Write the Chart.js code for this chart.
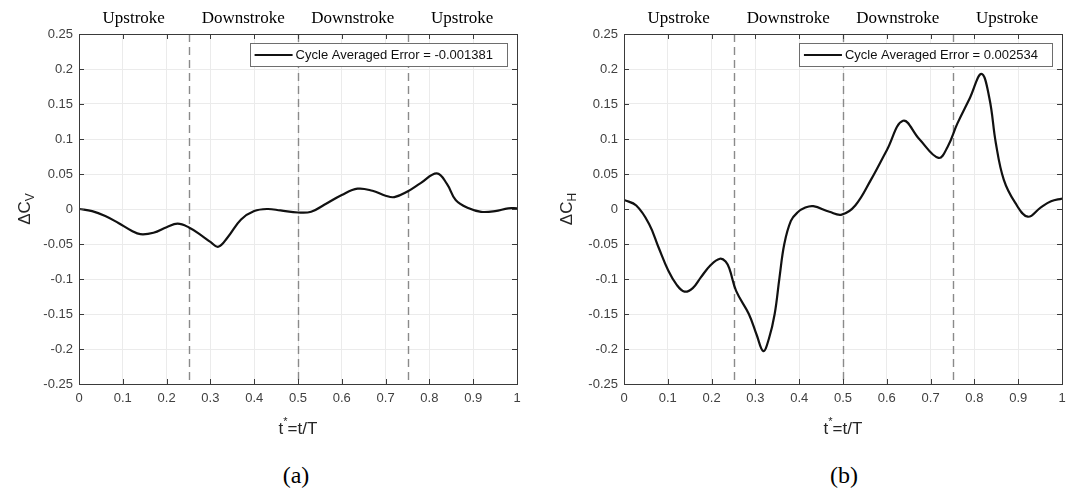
<!DOCTYPE html>
<html>
<head>
<meta charset="utf-8">
<script src="https://cdn.jsdelivr.net/npm/chart.js@4"></script>
<style>
  html, body { margin: 0; padding: 0; background: #fff; }
  body { width: 1081px; height: 496px; position: relative; overflow: hidden; }
  .wrap { position: absolute; top: 0; height: 450px; }
  .caption { position: absolute; top: 462px; font: 24px "Liberation Serif", "Times New Roman", serif; color: #000; transform: translateX(-50%); }
</style>
</head>
<body>
<div class="wrap" style="left:0;width:540px"><canvas id="chartV" width="540" height="450"></canvas></div>
<div class="wrap" style="left:540px;width:541px"><canvas id="chartH" width="541" height="450"></canvas></div>
<div class="caption" style="left:296px">(a)</div>
<div class="caption" style="left:844px">(b)</div>
<script>
// values
const phaseLabels = ['Upstroke', 'Downstroke', 'Downstroke', 'Upstroke'];
const phaseLines = [0.25, 0.5, 0.75];
const xTicks = [0, 0.1, 0.2, 0.3, 0.4, 0.5, 0.6, 0.7, 0.8, 0.9, 1];
const yTicks = [-0.25, -0.2, -0.15, -0.1, -0.05, 0, 0.05, 0.1, 0.15, 0.2, 0.25];

const tV = [0, 0.03, 0.06, 0.09, 0.12, 0.14, 0.17, 0.2, 0.225, 0.25, 0.28, 0.3, 0.318, 0.34, 0.37, 0.4, 0.43, 0.46, 0.5, 0.53, 0.56, 0.6, 0.636, 0.67, 0.7, 0.72, 0.75, 0.78, 0.817, 0.84, 0.86, 0.89, 0.918, 0.95, 0.98, 1];
const dCv = [0, -0.003, -0.01, -0.02, -0.031, -0.036, -0.034, -0.026, -0.021, -0.026, -0.038, -0.047, -0.054, -0.04, -0.015, -0.003, 0, -0.002, -0.005, -0.004, 0.006, 0.02, 0.029, 0.026, 0.019, 0.017, 0.025, 0.037, 0.051, 0.036, 0.013, 0.001, -0.004, -0.003, 0.001, 0.001];

const tH = [0, 0.028, 0.057, 0.079, 0.101, 0.12, 0.138, 0.157, 0.175, 0.198, 0.219, 0.232, 0.241, 0.256, 0.285, 0.303, 0.318, 0.331, 0.344, 0.355, 0.366, 0.381, 0.396, 0.414, 0.432, 0.469, 0.497, 0.528, 0.564, 0.6, 0.637, 0.674, 0.718, 0.739, 0.761, 0.79, 0.816, 0.834, 0.849, 0.867, 0.893, 0.922, 0.951, 0.975, 1];
const dCh = [0.013, 0.005, -0.021, -0.055, -0.088, -0.108, -0.118, -0.113, -0.098, -0.08, -0.071, -0.075, -0.086, -0.117, -0.15, -0.18, -0.203, -0.185, -0.15, -0.098, -0.05, -0.017, -0.005, 0.002, 0.004, -0.004, -0.008, 0.005, 0.042, 0.084, 0.126, 0.1, 0.073, 0.089, 0.122, 0.159, 0.193, 0.159, 0.094, 0.042, 0.009, -0.011, 0.002, 0.011, 0.015];

const legendV = 'Cycle Averaged Error = -0.001381';
const legendH = 'Cycle Averaged Error = 0.002534';

const axisColor = '#3a3a3a';
const sans = '"Liberation Sans", Arial, sans-serif';
const serif = '"Liberation Serif", "Times New Roman", serif';

const fmt = v => {
  const s = Number(v.toFixed(2)).toString();
  return s === '-0' ? '0' : s;
};

// box, inward ticks, dashed phase lines, phase labels, legend, axis titles
const decorations = {
  id: 'decorations',
  beforeDatasetsDraw(chart, args, opts) {
    const { ctx, chartArea: a, scales: { x } } = chart;
    ctx.save();
    ctx.strokeStyle = '#8a8a8a';
    ctx.lineWidth = 1.4;
    ctx.setLineDash([8, 5]);
    phaseLines.forEach(t => {
      const px = Math.round(x.getPixelForValue(t)) + 0.5;
      ctx.beginPath();
      ctx.moveTo(px, a.top);
      ctx.lineTo(px, a.bottom);
      ctx.stroke();
    });
    ctx.restore();
  },
  afterDraw(chart, args, opts) {
    const { ctx, chartArea: a, scales: { x, y } } = chart;
    ctx.save();
    // axes box
    ctx.strokeStyle = axisColor;
    ctx.lineWidth = 1;
    ctx.strokeRect(Math.round(a.left) + 0.5, Math.round(a.top) + 0.5, Math.round(a.right - a.left), Math.round(a.bottom - a.top));
    // inward tick marks
    const tl = 5;
    ctx.beginPath();
    xTicks.forEach(t => {
      const px = Math.round(x.getPixelForValue(t)) + 0.5;
      ctx.moveTo(px, a.bottom); ctx.lineTo(px, a.bottom - tl);
      ctx.moveTo(px, a.top); ctx.lineTo(px, a.top + tl);
    });
    yTicks.forEach(v => {
      const py = Math.round(y.getPixelForValue(v)) + 0.5;
      ctx.moveTo(a.left, py); ctx.lineTo(a.left + tl, py);
      ctx.moveTo(a.right, py); ctx.lineTo(a.right - tl, py);
    });
    ctx.stroke();

    // phase labels above the plot
    ctx.fillStyle = '#000';
    ctx.font = '17px ' + serif;
    ctx.textAlign = 'center';
    ctx.textBaseline = 'alphabetic';
    phaseLabels.forEach((lab, i) => {
      const px = x.getPixelForValue(0.125 + i * 0.25);
      ctx.fillText(lab, px, 23);
    });

    // legend box
    ctx.font = '13px ' + sans;
    const tw = ctx.measureText(opts.legend).width;
    const boxR = a.right - 10;
    const boxW = tw + 60;
    const boxL = boxR - boxW;
    const boxT = a.top + 9, boxH = 23;
    ctx.fillStyle = '#fff';
    ctx.fillRect(boxL, boxT, boxW, boxH);
    ctx.strokeStyle = '#6e6e6e';
    ctx.lineWidth = 1;
    ctx.strokeRect(Math.round(boxL) + 0.5, boxT + 0.5, Math.round(boxW), boxH);
    ctx.strokeStyle = '#111';
    ctx.lineWidth = 2;
    ctx.beginPath();
    ctx.moveTo(boxL + 5, boxT + boxH / 2 + 0.5);
    ctx.lineTo(boxL + 43, boxT + boxH / 2 + 0.5);
    ctx.stroke();
    ctx.fillStyle = '#111';
    ctx.textAlign = 'left';
    ctx.textBaseline = 'middle';
    ctx.fillText(opts.legend, boxL + 46, boxT + boxH / 2 + 1);

    // x axis title: t* = t/T
    ctx.fillStyle = '#262626';
    ctx.textBaseline = 'alphabetic';
    const cx = (a.left + a.right) / 2;
    const p1 = 't', p2 = '=t/T';
    ctx.font = '17px ' + sans;
    const w1 = ctx.measureText(p1).width, w2 = ctx.measureText(p2).width;
    ctx.font = '11px ' + sans;
    const ws = ctx.measureText('*').width;
    const sx = cx - (w1 + ws + w2) / 2;
    const base = a.bottom + 50;
    ctx.font = '17px ' + sans;
    ctx.fillText(p1, sx, base);
    ctx.font = '11px ' + sans;
    ctx.fillText('*', sx + w1, base - 9);
    ctx.font = '17px ' + sans;
    ctx.fillText(p2, sx + w1 + ws, base);

    // y axis title: ΔC with subscript
    const cy = (a.top + a.bottom) / 2;
    ctx.translate(opts.yTitleX, cy);
    ctx.rotate(-Math.PI / 2);
    ctx.font = '17px ' + sans;
    const m1 = ctx.measureText('\u0394C').width;
    ctx.font = '12px ' + sans;
    const m2 = ctx.measureText(opts.sub).width;
    const start = -(m1 + m2) / 2;
    ctx.font = '17px ' + sans;
    ctx.fillText('\u0394C', start, 6);
    ctx.font = '12px ' + sans;
    ctx.fillText(opts.sub, start + m1, 10);
    ctx.restore();
  }
};

function makeChart(id, tVals, yVals, legendText, sub, leftW, rightPad, yTitleX) {
  const ctx = document.getElementById(id).getContext('2d');
  return new Chart(ctx, {
    type: 'line',
    data: {
      datasets: [{
        data: tVals.map((t, i) => ({ x: t, y: yVals[i] })),
        borderColor: '#111',
        borderWidth: 2.2,
        pointRadius: 0,
        fill: false,
        tension: 0.4
      }]
    },
    options: {
      responsive: false,
      animation: false,
      events: [],
      layout: { padding: { top: 34, right: rightPad, bottom: 0, left: 0 } },
      plugins: {
        legend: { display: false },
        tooltip: { enabled: false },
        decorations: { legend: legendText, sub: sub, yTitleX: yTitleX }
      },
      scales: {
        x: {
          type: 'linear',
          min: 0,
          max: 1,
          afterBuildTicks: s => { s.ticks = xTicks.map(v => ({ value: v })); },
          afterFit: s => { s.height = 66; },
          border: { display: false },
          grid: { color: '#ebebeb', lineWidth: 1, drawTicks: false },
          ticks: {
            color: '#404040',
            font: { family: sans, size: 13 },
            padding: 7,
            maxRotation: 0,
            callback: v => fmt(v)
          }
        },
        y: {
          type: 'linear',
          min: -0.25,
          max: 0.25,
          afterBuildTicks: s => { s.ticks = yTicks.map(v => ({ value: v })); },
          afterFit: s => { s.width = leftW; },
          border: { display: false },
          grid: { color: '#ebebeb', lineWidth: 1, drawTicks: false },
          ticks: {
            color: '#404040',
            font: { family: sans, size: 13 },
            padding: 6,
            callback: v => fmt(v)
          }
        }
      }
    },
    plugins: [decorations]
  });
}

makeChart('chartV', tV, dCv, legendV, 'V', 79, 23, 24);
makeChart('chartH', tH, dCh, legendH, 'H', 84, 19, 26);
</script>
</body>
</html>
